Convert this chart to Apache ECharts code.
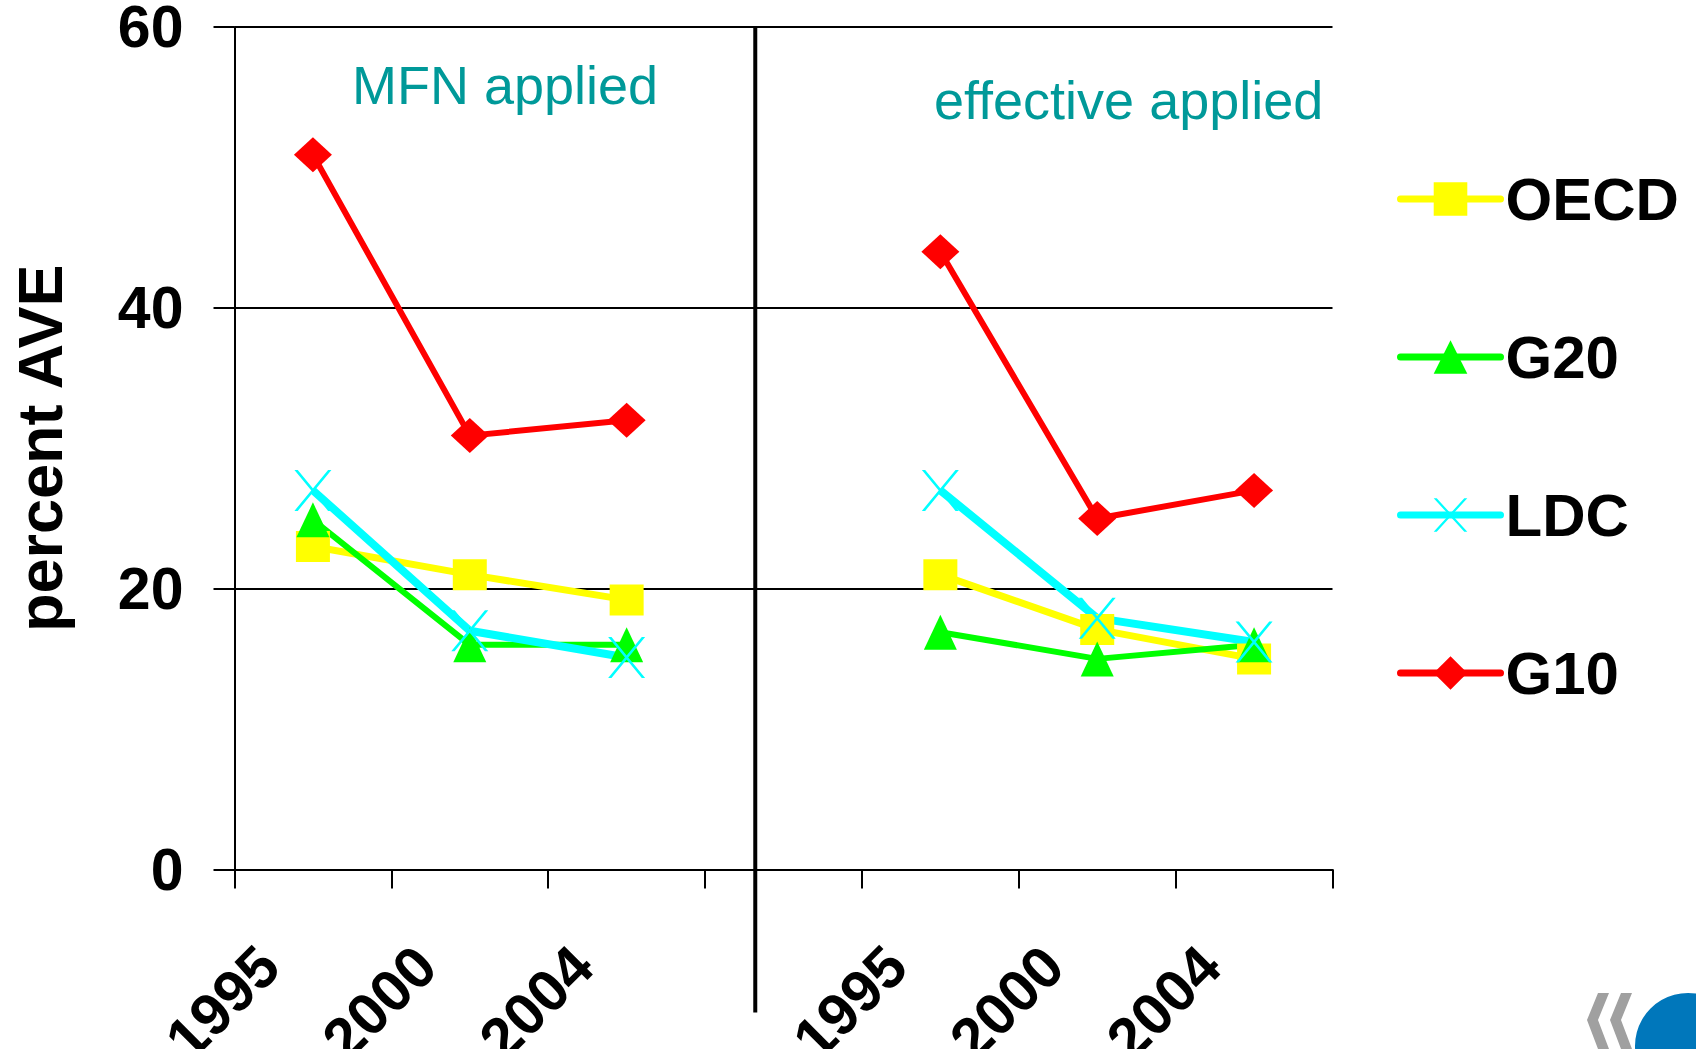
<!DOCTYPE html>
<html><head><meta charset="utf-8">
<script src="https://cdn.jsdelivr.net/npm/echarts@6/dist/echarts.min.js"></script>
<style>html,body{margin:0;padding:0;background:#fff;}#c{width:1696px;height:1049px;}</style>
</head><body><div id="c"></div>
<script>
// ---- data ----
const yearLabels = ['1995', '2000', '2004', '', '1995', '2000', '2004'];
const panelTitles = ['MFN applied', 'effective applied'];
const seriesNames = ['OECD', 'G20', 'LDC', 'G10'];
const oecd = [23, 21, 19.2, null, 21, 17.1, 15];
const g20  = [24.9, 16, 16, null, 16.9, 15, 16];
const ldc  = [27, 17, 15.1, null, 27, 17.9, 16.2];
const g10  = [50.9, 30.9, 32, null, 44, 25, 27];
const yMin = 0, yMax = 60, yStep = 20;
const yAxisName = 'percent AVE';

// ---- layout / style ----
const FONT = '"Liberation Sans", Arial, Helvetica, sans-serif';
const dividerPos = 3.32;
const xSym = 'path://M0,0L9,0L100,100L91,100Z M91,0L100,0L9,100L0,100Z';

const chart = echarts.init(document.getElementById('c'), null, {renderer: 'svg'});

function mkSeries(name, data, color, symbol, size, width) {
  return {
    name: name, type: 'line', data: data, xAxisIndex: 0, yAxisIndex: 0,
    symbol: symbol, symbolSize: size, showSymbol: true,
    lineStyle: {color: color, width: width},
    itemStyle: {color: color},
    emphasis: {disabled: true}, silent: true
  };
}

chart.setOption({
  animation: false,
  backgroundColor: '#fff',
  title: [
    {text: panelTitles[0], left: 352, top: 58, padding: 0,
     textStyle: {color: '#009999', fontSize: 54, fontWeight: 'normal', fontFamily: FONT}},
    {text: panelTitles[1], left: 934, top: 73, padding: 0,
     textStyle: {color: '#009999', fontSize: 54, fontWeight: 'normal', fontFamily: FONT}}
  ],
  grid: {left: 234.5, right: 363.5, top: 27, bottom: 179.5, containLabel: false, outerBoundsMode: 'none'},
  legend: {
    data: seriesNames, orient: 'vertical', left: 1397, top: 169, padding: 0,
    itemWidth: 100, itemHeight: 42, itemGap: 98, itemTextGap: 16,
    selectedMode: false,
    lineStyle: {cap: 'round', width: 7},
    textStyle: {color: '#000', fontSize: 60, fontWeight: 'bold', fontFamily: FONT, lineHeight: 60}
  },
  xAxis: [{
    type: 'category', data: yearLabels, boundaryGap: true,
    axisLine: {show: true, lineStyle: {color: '#000', width: 2}},
    axisTick: {show: true, interval: 0, length: 19, lineStyle: {color: '#000', width: 2}},
    axisLabel: {interval: 0, rotate: 45, margin: 43, padding: [0, 62, 0, 0],
      color: '#000', fontSize: 59, fontWeight: 'bold', fontFamily: FONT},
    splitLine: {show: false}
  }, {
    type: 'value', min: 0, max: yearLabels.length, show: false
  }],
  yAxis: {
    type: 'value', min: yMin, max: yMax, interval: yStep,
    name: yAxisName, nameLocation: 'middle', nameGap: 163, nameRotate: 90,
    nameTextStyle: {color: '#000', fontSize: 63, fontWeight: 'bold', fontFamily: FONT},
    axisLine: {show: true, lineStyle: {color: '#000', width: 2}},
    axisTick: {show: true, length: 21, lineStyle: {color: '#000', width: 2}},
    axisLabel: {margin: 51, color: '#000', fontSize: 59, fontWeight: 'bold', fontFamily: FONT},
    splitLine: {show: true, lineStyle: {color: '#000', width: 2}}
  },
  series: [
    mkSeries(seriesNames[0], oecd, '#FFFF00', 'rect', [34, 31], 7),
    mkSeries(seriesNames[1], g20, '#00FF00', 'triangle', [33, 35], 6),
    mkSeries(seriesNames[2], ldc, '#00FFFF', xSym, [37, 41], 8),
    mkSeries(seriesNames[3], g10, '#FF0000', 'diamond', [38, 35], 6)
  ]
});

const xDiv = chart.convertToPixel({xAxisIndex: 1}, dividerPos);
const yTop = chart.convertToPixel({yAxisIndex: 0}, yMax);
const yBot = chart.convertToPixel({yAxisIndex: 0}, yMin);
chart.setOption({
  graphic: [
    {type: 'line', silent: true, shape: {x1: xDiv, y1: yTop, x2: xDiv, y2: yBot + 143},
     style: {stroke: '#000', lineWidth: 4}},
    // OECD logo fragment (decoration)
    {type: 'polygon', silent: true, shape: {points: [[1598,993],[1609,993],[1598,1020],[1609,1049],[1598,1049],[1587,1020]]},
     style: {fill: '#a0a0a0'}},
    {type: 'polygon', silent: true, shape: {points: [[1621,993],[1632,993],[1621,1020],[1632,1049],[1621,1049],[1610,1020]]},
     style: {fill: '#a0a0a0'}},
    {type: 'circle', silent: true, shape: {cx: 1688, cy: 1046, r: 53}, style: {fill: '#0077bb'}}
  ]
});
</script>
</body></html>
